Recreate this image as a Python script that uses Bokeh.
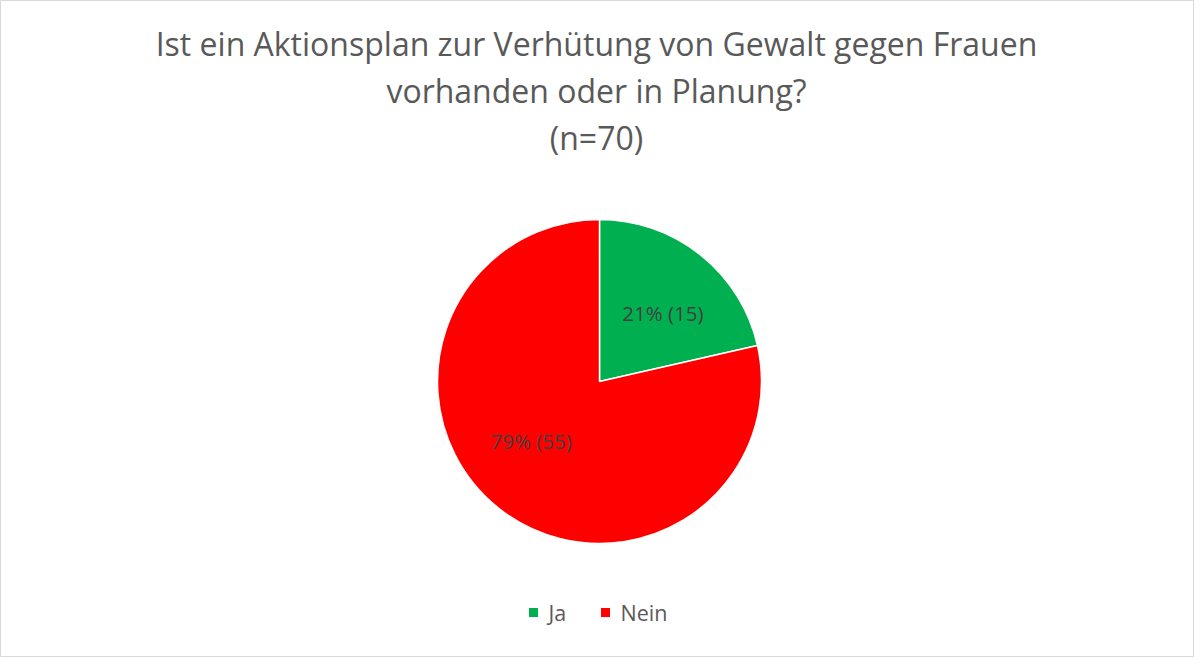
import math
from bokeh.plotting import figure
from bokeh.models import Range1d, ColumnDataSource
from bokeh.core.properties import value
from bokeh.embed import file_html
from bokeh.resources import INLINE

categories = ["Ja", "Nein"]
counts = [15, 55]
colors = ["#00B050", "#FF0000"]
title_lines = ["Ist ein Aktionsplan zur Verhütung von Gewalt gegen Frauen",
               "vorhanden oder in Planung?", "(n=70)"]

W, H = 1194, 657
FONT = "Open Sans"

p = figure(width=W, height=H, output_backend="svg", toolbar_location=None,
           x_range=Range1d(0, W), y_range=Range1d(0, H), min_border=0)
p.axis.visible = False
p.grid.visible = False
p.outline_line_color = "#D9D9D9"
p.outline_line_width = 1
p.background_fill_color = "white"
p.border_fill_color = "white"

# pie geometry (pixels)
cx, cy, R = 599, H - 381, 162
total = sum(counts)
fracs = [c / total for c in counts]
starts, ends, mids = [], [], []
cum = 0.0
for f in fracs:
    s = math.pi / 2 - 2 * math.pi * cum
    e = math.pi / 2 - 2 * math.pi * (cum + f)
    starts.append(s)
    ends.append(e)
    mids.append((s + e) / 2)
    cum += f

src = ColumnDataSource(dict(x=[cx] * len(counts), y=[cy] * len(counts),
                            start=starts, end=ends, color=colors))
p.wedge(x="x", y="y", radius=R, start_angle="start", end_angle="end",
        direction="clock", fill_color="color", line_color="white",
        line_width=1.5, source=src)

# data labels
offsets = [(6, -3), (-11, 12)]
lab_r = [92, 92]
lx = [cx + lab_r[i] * math.cos(mids[i]) + offsets[i][0] for i in range(len(counts))]
ly = [cy + lab_r[i] * math.sin(mids[i]) + offsets[i][1] for i in range(len(counts))]
labels = [f"{round(100 * f)}% ({c})" for f, c in zip(fracs, counts)]
p.text(x=lx, y=ly, text=labels, text_align="center", text_baseline="middle",
       text_font=value(FONT), text_font_size="20.5px", text_color="#404040")

# title
ty = [H - 43, H - 90, H - 137]
p.text(x=[W / 2 - 1] * 3, y=ty, text=title_lines, text_align="center",
       text_baseline="middle", text_font=value(FONT), text_font_size="32px",
       text_color="#595959")

# legend
leg_y = H - 612
sq_x = [533, 605]
p.scatter(x=sq_x, y=[leg_y] * 2, marker="square", size=9,
          fill_color=colors, line_color=None)
p.text(x=[x + 15 for x in sq_x], y=[leg_y] * 2, text=categories,
       text_align="left", text_baseline="middle", text_font=value(FONT),
       text_font_size="21.5px", text_color="#595959")

open("out.html", "w").write(file_html(p, INLINE))
